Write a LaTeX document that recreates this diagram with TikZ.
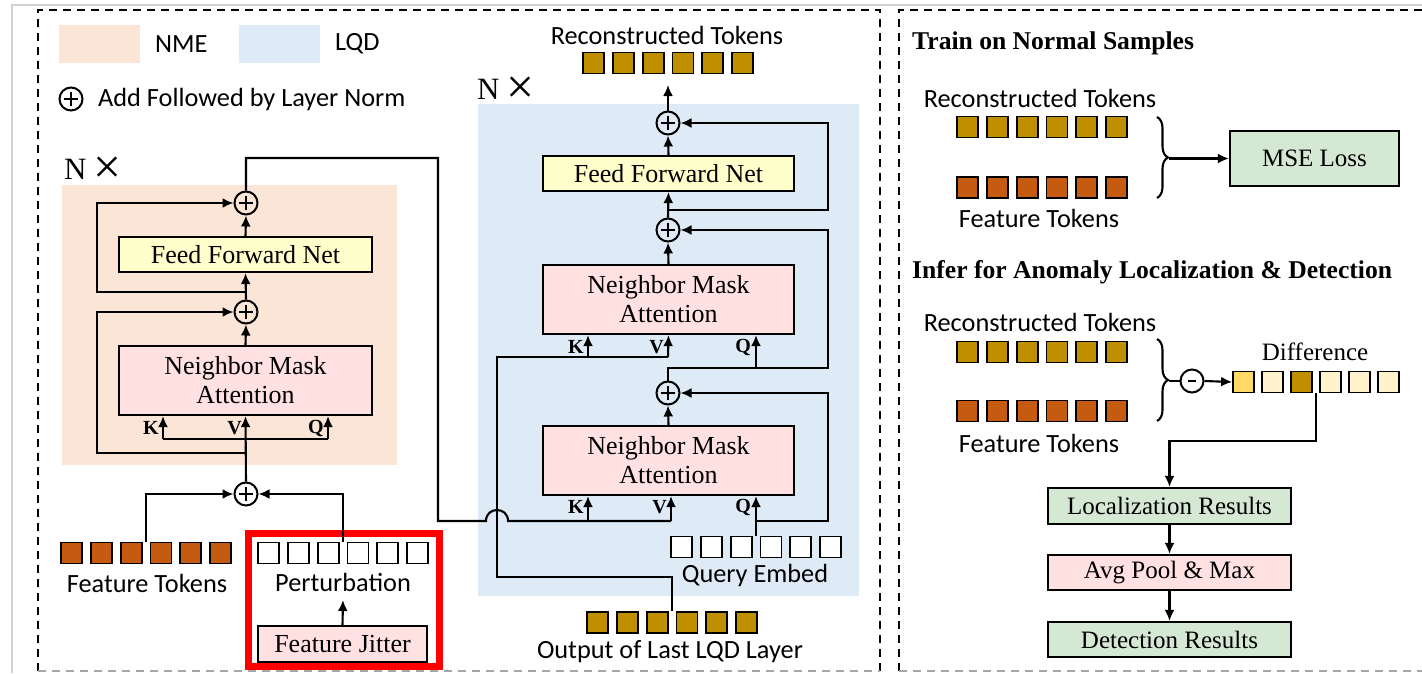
\documentclass[tikz,border=0pt]{standalone}
\usepackage{graphicx}
\usepackage{fontspec}
\setmainfont{Liberation Serif}
\newfontfamily\calfont{Carlito}
\usetikzlibrary{arrows.meta,decorations.pathreplacing,calc}

\definecolor{nmebg}{HTML}{FBE5D6}
\definecolor{lqdbg}{HTML}{DEEBF7}
\definecolor{ffnfill}{HTML}{FFFFCC}
\definecolor{attfill}{HTML}{FFE1E1}
\definecolor{resfill}{HTML}{D5E8D4}
\definecolor{goldtok}{HTML}{BF8F00}
\definecolor{orangetok}{HTML}{C55A11}
\definecolor{difflight}{HTML}{FFF2CC}
\definecolor{diffmid}{HTML}{FFD966}
\definecolor{jitterred}{HTML}{FF0000}

\newcommand{\repeatmark}{N\hspace{7pt}\raisebox{-4pt}{\scalebox{1.6}{×}}}

\tikzset{
  conn/.style={line width=2.1pt},
  arr/.style={conn, -{Latex[length=11pt,width=10pt]}},
  blockbox/.style={draw, line width=2.2pt, inner sep=0pt, align=center,
    font=\fontsize{26}{29}\selectfont},
  resbox/.style={blockbox, font=\fontsize{25}{28}\selectfont},
  addnode/.style={circle, draw, line width=2pt, minimum size=23pt, inner sep=0pt,
    path picture={\draw[line width=2pt]
      ([xshift=-7pt]path picture bounding box.center) -- ([xshift=7pt]path picture bounding box.center)
      ([yshift=-7pt]path picture bounding box.center) -- ([yshift=7pt]path picture bounding box.center);}},
  subnode/.style={circle, draw, line width=2pt, minimum size=23pt, inner sep=0pt,
    path picture={\draw[line width=2pt]
      ([xshift=-4pt]path picture bounding box.center) -- ([xshift=4pt]path picture bounding box.center);}},
  tok/.style={draw, line width=1.8pt, minimum size=21pt, inner sep=0pt},
  sanslabel/.style={font=\calfont\fontsize{26.3}{29}\selectfont, inner sep=0pt},
  seriflabel/.style={font=\fontsize{25}{28}\selectfont, inner sep=0pt},
  headlabel/.style={font=\bfseries\fontsize{25.6}{28}\selectfont, inner sep=0pt, anchor=west},
  kvq/.style={font=\bfseries\fontsize{20}{22}\selectfont, inner sep=0pt, anchor=east},
  repeatlabel/.style={font=\fontsize{31}{33}\selectfont, inner sep=0pt, anchor=west},
  dashbox/.style={line width=2pt, dash pattern=on 8pt off 6pt},
}

\begin{document}
\begin{tikzpicture}[x=1pt,y=-1pt]
\useasboundingbox (0,0) rectangle (1422,673);
\fill[white] (0,0) rectangle (1422,673);

% outer frame lines
\draw[black!18, line width=1.5pt] (12,673) -- (12,5) -- (1422,5);

% panel borders
\draw[dashbox] (38,671) -- (38,10) -- (880,10) -- (880,671);
\draw[dashbox, black!35] (38,671) -- (880,671);
\draw[dashbox] (1422,10) -- (899,10) -- (899,671);
\draw[dashbox, black!35] (899,671) -- (1422,671);

% encoder / decoder backgrounds
\fill[nmebg] (62,185) rectangle (397,465);
\fill[lqdbg] (478,104) rectangle (859,596);

% legend
\fill[nmebg] (59,25) rectangle (140,63);
\node[sanslabel, anchor=west] (legnme) at (155,44) {NME};
\fill[lqdbg] (239,25) rectangle (320,63);
\node[sanslabel, anchor=west] (leglqd) at (335,44) {LQD};
\node[addnode] (legadd) at (71,99) {};
\node[sanslabel, anchor=west] (legaddtxt) at (98,99) {Add Followed by Layer Norm};

\node[repeatlabel] (nmerep) at (64,170) {\repeatmark};
\node[repeatlabel] (lqdrep) at (477,90) {\repeatmark};

% ---------------- NME ----------------
\node[blockbox, fill=ffnfill, minimum width=253pt, minimum height=35pt] (nffn) at (245.5,254.5) {Feed Forward Net};
\node[blockbox, fill=attfill, minimum width=253pt, minimum height=69pt] (natt) at (245.5,380.5) {Neighbor Mask\\Attention};
\node[addnode] (nadd2) at (246,203) {};
\node[addnode] (nadd1) at (246,312) {};
\node[addnode] (nadd0) at (246,494) {};

% jitter frame
\draw[jitterred, line width=7pt] (248,533) rectangle (439,666);

\foreach \i in {1,...,6}
  \node[tok, fill=orangetok] (ft\i) at ({71.5+(\i-1)*29.8},553) {};
\foreach \i in {1,...,6}
  \node[tok, fill=white] (pt\i) at ({268.5+(\i-1)*29.8},553) {};
\node[sanslabel] (fttxt) at (147,583) {Feature Tokens};
\node[sanslabel] (pttxt) at (343,582) {Perturbation};
\node[blockbox, fill=attfill, minimum width=169pt, minimum height=36pt] (jitter) at (342.5,644) {Feature Jitter};
\coordinate (ptup) at (343,600);
\draw[arr] (jitter.north) -- (ptup);

\coordinate (ftgap) at ($(ft3.north)!0.5!(ft4.north)$);
\coordinate (ptgap) at ($(pt3.north)!0.5!(pt4.north)$);
\draw[arr] (ftgap) |- (nadd0.west);
\draw[arr] (ptgap) |- (nadd0.east);

\coordinate (nk) at (163,439);
\coordinate (nq) at (328,439);
\draw[arr] (nadd0.north) -- (natt.south);
\draw[conn] (nk) -- (nq);
\draw[arr] (nk) -- (nk |- natt.south);
\draw[arr] (nq) -- (nq |- natt.south);
\node[kvq] (nklab) at (159,428) {K};
\node[kvq] (nvlab) at (242,428) {V};
\node[kvq] (nqlab) at (324,428) {Q};

\coordinate (nres1) at (246,453);
\draw[arr] (nres1) -- (97,453) |- (nadd1.west);
\draw[arr] (natt.north) -- (nadd1.south);
\draw[arr] (nadd1.north) -- (nffn.south);
\coordinate (nres2) at (246,292);
\draw[arr] (nres2) -- (97,292) |- (nadd2.west);
\draw[arr] (nffn.north) -- (nadd2.south);

% ---------------- LQD ----------------
\node[blockbox, fill=ffnfill, minimum width=251pt, minimum height=35pt] (lffn) at (668.5,173.5) {Feed Forward Net};
\node[blockbox, fill=attfill, minimum width=251pt, minimum height=69pt] (latt2) at (668.5,299.5) {Neighbor Mask\\Attention};
\node[blockbox, fill=attfill, minimum width=251pt, minimum height=69pt] (latt1) at (668.5,460.5) {Neighbor Mask\\Attention};
\node[addnode] (ladd3) at (668,123) {};
\node[addnode] (ladd2) at (668,230) {};
\node[addnode] (ladd1) at (668,393) {};

\foreach \i in {1,...,6}
  \node[tok, fill=goldtok] (rt\i) at ({593.5+(\i-1)*29.8},63) {};
\node[sanslabel] (rttxt) at (667,35) {Reconstructed Tokens};
\foreach \i in {1,...,6}
  \node[tok, fill=white] (qe\i) at ({681.5+(\i-1)*29.8},547) {};
\node[sanslabel] (qetxt) at (755,575) {Query Embed};
\foreach \i in {1,...,6}
  \node[tok, fill=goldtok] (ol\i) at ({597.5+(\i-1)*29.8},622.5) {};
\node[sanslabel] (oltxt) at (670,652) {Output of Last LQD Layer};

\coordinate (qegap) at ($(qe3.north)!0.5!(qe4.north)$);
\coordinate (olgap) at ($(ol3.north)!0.5!(ol4.north)$);

% encoder output into the first attention (K, V), hopping over the memory line
\coordinate (lk1) at (588,521);
\coordinate (lv1) at (671,521);
\draw[conn] (nadd2.north) |- (438,158) -- (438,521) -- (486,521)
  .. controls (486,506.3) and (508,506.3) .. (508,521) -- (lv1);
\draw[arr] (lk1) -- (lk1 |- latt1.south);
\draw[arr] (lv1) -- (lv1 |- latt1.south);
\node[kvq] (lk1lab) at (584,507) {K};
\node[kvq] (lv1lab) at (667,507) {V};
\node[kvq] (lq1lab) at (751,507) {Q};

% query embedding: Q and residual
\coordinate (lqj) at (qegap |- lk1);
\draw[arr] (qegap) -- (qegap |- latt1.south);
\draw[arr] (lqj) -- (828,521) |- (ladd1.east);
\draw[arr] (latt1.north) -- (ladd1.south);

% second attention: K, V from last layer output, Q from the sum
\coordinate (lk2) at (588,357);
\coordinate (lv2) at (668,357);
\draw[conn] (olgap) |- (497,577) -- (497,357) -- (lv2);
\draw[arr] (lk2) -- (lk2 |- latt2.south);
\draw[arr] (lv2) -- (latt2.south);
\coordinate (lq2) at (756,368);
\draw[arr] (ladd1.north) |- (828,368) |- (ladd2.east);
\draw[arr] (lq2) -- (lq2 |- latt2.south);
\node[kvq] (lk2lab) at (584,347) {K};
\node[kvq] (lv2lab) at (664,347) {V};
\node[kvq] (lq2lab) at (751,347) {Q};

\draw[arr] (latt2.north) -- (ladd2.south);
\draw[arr] (ladd2.north) -- (lffn.south);
\coordinate (lres3) at (668,210);
\draw[arr] (lres3) -- (828,210) |- (ladd3.east);
\draw[arr] (lffn.north) -- (ladd3.south);
\coordinate (lout) at (668,85);
\draw[arr] (ladd3.north) -- (lout);

% ---------------- right panel ----------------
\node[headlabel] (trainhead) at (912,43) {Train on Normal Samples};
\node[sanslabel] (trrtxt) at (1040,98) {Reconstructed Tokens};
\foreach \i in {1,...,6}
  \node[tok, fill=goldtok] (trr\i) at ({967.5+(\i-1)*29.8},127) {};
\foreach \i in {1,...,6}
  \node[tok, fill=orangetok] (trf\i) at ({967.5+(\i-1)*29.8},187.5) {};
\node[sanslabel] (trftxt) at (1039,218) {Feature Tokens};
\draw[conn, decorate, decoration={brace, amplitude=11pt}] (1157,117) -- (1157,198);
\node[resbox, fill=resfill, minimum width=169pt, minimum height=55pt] (mse) at (1314.5,158.5) {MSE Loss};
\coordinate (trtip) at (1169,158.5);
\draw[arr] (trtip) -- (mse.west);

\node[headlabel] (inferhead) at (912,272) {Infer for Anomaly Localization \& Detection};
\node[sanslabel] (inrtxt) at (1040,322) {Reconstructed Tokens};
\foreach \i in {1,...,6}
  \node[tok, fill=goldtok] (inr\i) at ({967.5+(\i-1)*29.8},352) {};
\foreach \i in {1,...,6}
  \node[tok, fill=orangetok] (inf\i) at ({967.5+(\i-1)*29.8},411) {};
\node[sanslabel] (inftxt) at (1039,443) {Feature Tokens};
\draw[conn, decorate, decoration={brace, amplitude=11pt}] (1157,339) -- (1157,421);
\node[subnode] (minus) at (1192,381) {};
\coordinate (intip) at (1169,381);
\draw[conn] (intip) -- (minus.west);

\node[tok, fill=diffmid] (df1) at (1243.5,382) {};
\node[tok, fill=difflight] (df2) at (1272.5,382) {};
\node[tok, fill=goldtok] (df3) at (1301.5,382) {};
\node[tok, fill=difflight] (df4) at (1330.5,382) {};
\node[tok, fill=difflight] (df5) at (1359.5,382) {};
\node[tok, fill=difflight] (df6) at (1388.5,382) {};
\node[seriflabel] (dftxt) at (1315,352) {Difference};
\draw[arr] (minus.east) -- (df1.west);

\node[resbox, fill=resfill, minimum width=243pt, minimum height=36pt] (loc) at (1169.5,506) {Localization Results};
\node[resbox, fill=attfill, minimum width=243pt, minimum height=35pt] (avg) at (1169.5,572.5) {Avg Pool \& Max};
\node[resbox, fill=resfill, minimum width=243pt, minimum height=35pt] (det) at (1169.5,639.5) {Detection Results};

\coordinate (dfgap) at ($(df3.south)!0.5!(df4.south)$);
\draw[arr] (dfgap) |- ($(loc.north)+(0,-46)$) -- (loc.north);
\draw[arr] (loc.south) -- (avg.north);
\draw[arr] (avg.south) -- (det.north);
\end{tikzpicture}
\end{document}
